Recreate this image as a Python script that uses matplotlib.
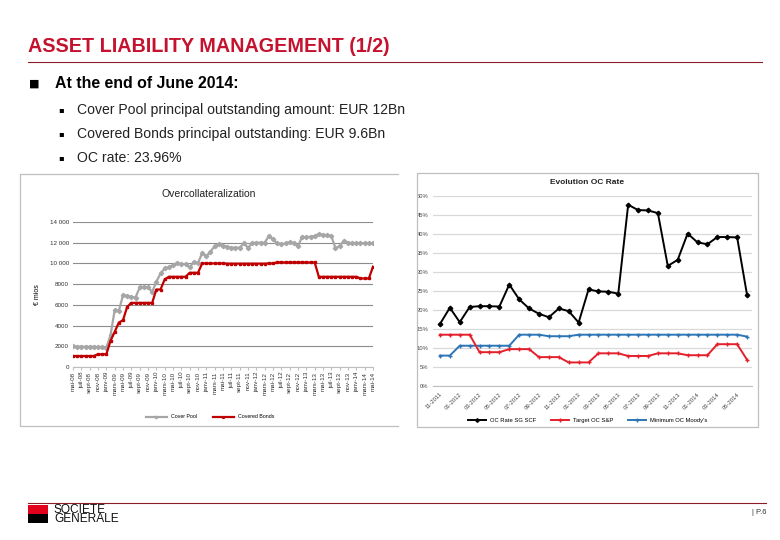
"""
Slide P.6 - Asset Liability Management (1/2)
Two Excel-style charts: Overcollateralization (EUR mios) and Evolution OC Rate.
"""

import matplotlib
matplotlib.use("Agg")
import matplotlib.pyplot as plt
from matplotlib.patches import Rectangle
from matplotlib.lines import Line2D

plt.rcParams["font.family"] = ["Liberation Sans", "DejaVu Sans"]

W, H = 780, 540          # slide size in pixels
RED = "#C4122F"
DARK_RED = "#8E1B2A"

# ----------------------------------------------------------------------
# Data - Overcollateralization (monthly, mai-08 .. mai-14, EUR mios)
# ----------------------------------------------------------------------
oc_tick_labels = ["mai-08", "juil-08", "sept-08", "nov-08", "janv-09", "mars-09",
                  "mai-09", "juil-09", "sept-09", "nov-09", "janv-10", "mars-10",
                  "mai-10", "juil-10", "sept-10", "nov-10", "janv-11", "mars-11",
                  "mai-11", "juil-11", "sept-11", "nov-11", "janv-12", "mars-12",
                  "mai-12", "juil-12", "sept-12", "nov-12", "janv-13", "mars-13",
                  "mai-13", "juil-13", "sept-13", "nov-13", "janv-14", "mars-14",
                  "mai-14"]

cover_pool = [1980, 1970, 1960, 1960, 1950, 1950, 1930, 1900, 1880, 3060,
              5480, 5420, 6940, 6840, 6780, 6710, 7680, 7740, 7680, 7260,
              8230, 9030, 9520, 9610, 9840, 10000, 9940, 9940, 9610, 10160,
              10060, 10970, 10700, 11130, 11680, 11840, 11710, 11610, 11520, 11520,
              11520, 11940, 11520, 11940, 12000, 12000, 12000, 12650, 12320, 11940,
              11840, 11940, 12030, 11940, 11680, 12580, 12520, 12580, 12650, 12840,
              12740, 12740, 12650, 11450, 11680, 12190, 12000, 11970, 11970, 11970,
              11950, 11950, 11940]

covered_bonds = [1060, 1060, 1060, 1060, 1060, 1060, 1230, 1230, 1230, 2520,
                 3390, 4290, 4520, 5810, 6190, 6190, 6190, 6190, 6190, 6190,
                 7480, 7480, 8450, 8710, 8710, 8710, 8710, 8710, 9100, 9100,
                 9100, 10000, 10000, 10000, 10000, 10000, 10000, 9980, 9980, 9980,
                 9980, 9980, 9980, 9980, 9980, 9980, 9980, 10000, 10000, 10100,
                 10100, 10100, 10100, 10100, 10100, 10100, 10100, 10100, 10100, 8710,
                 8710, 8710, 8710, 8710, 8710, 8710, 8710, 8710, 8710, 8550,
                 8550, 8550, 9680]

oc_yticks = [0, 2000, 4000, 6000, 8000, 10000, 12000, 14000]
oc_ytick_labels = ["0", "2000", "4000", "6000", "8000", "10 000", "12 000", "14 000"]

# ----------------------------------------------------------------------
# Data - Evolution OC Rate (monthly, 11-2011 .. 06-2014, %)
# ----------------------------------------------------------------------
rate_tick_labels = ["11-2011", "01-2012", "03-2012", "05-2012", "07-2012", "09-2012",
                    "11-2012", "01-2013", "03-2013", "05-2013", "07-2013", "09-2013",
                    "11-2013", "01-2014", "03-2014", "05-2014"]

oc_rate = [16.3, 20.6, 16.8, 20.8, 21.0, 21.0, 20.9, 26.7, 22.8, 20.4,
           19.0, 18.1, 20.4, 19.7, 16.7, 25.4, 24.9, 24.8, 24.3, 47.7,
           46.3, 46.2, 45.5, 31.6, 33.2, 40.1, 37.8, 37.3, 39.2, 39.2,
           39.1, 23.96]

target_sp = [13.5, 13.5, 13.5, 13.5, 8.9, 8.9, 8.9, 9.7, 9.7, 9.7,
             7.6, 7.6, 7.6, 6.2, 6.2, 6.2, 8.6, 8.6, 8.6, 7.9,
             7.9, 7.9, 8.6, 8.6, 8.6, 8.1, 8.1, 8.1, 11.0, 11.0,
             11.0, 6.9]

min_moodys = [8.0, 8.0, 10.6, 10.6, 10.6, 10.6, 10.6, 10.6, 13.5, 13.5,
              13.5, 13.1, 13.1, 13.1, 13.5, 13.5, 13.5, 13.5, 13.5, 13.5,
              13.5, 13.5, 13.5, 13.5, 13.5, 13.5, 13.5, 13.5, 13.5, 13.5,
              13.5, 13.0]

rate_yticks = [0, 5, 10, 15, 20, 25, 30, 35, 40, 45, 50]


def fx(x):
    return x / W


def fy(y):
    return 1 - y / H


def add_axes_px(fig, x0, y0, x1, y1):
    """axes from pixel box (top-left origin)"""
    return fig.add_axes([fx(x0), fy(y1), (x1 - x0) / W, (y1 - y0) / H])


def line_px(fig, x0, x1, y, color, lw):
    fig.add_artist(Line2D([fx(x0), fx(x1)], [fy(y), fy(y)], color=color, lw=lw,
                          transform=fig.transFigure))


def main():
    fig = plt.figure(figsize=(W / 100, H / 100), dpi=100)

    # --- header ---
    fig.text(fx(28), fy(47), "ASSET LIABILITY MANAGEMENT (1/2)", color=RED,
             fontsize=14.2, fontweight="bold", va="center", ha="left")
    line_px(fig, 28, 762, 62, DARK_RED, 0.8)

    fig.text(fx(29), fy(84), "\u25a0", fontsize=8, va="center", ha="left",
             family=["DejaVu Sans"])
    fig.text(fx(55), fy(84), "At the end of June 2014:", fontsize=11.4,
             fontweight="bold", va="center", ha="left")
    bullets = ["Cover Pool principal outstanding amount: EUR 12Bn",
               "Covered Bonds principal outstanding: EUR 9.6Bn",
               "OC rate: 23.96%"]
    for k, txt in enumerate(bullets):
        y = 110 + 24 * k
        fig.text(fx(58), fy(y), "\u25aa", fontsize=6, va="center", ha="left",
                 family=["DejaVu Sans"])
        fig.text(fx(77), fy(y), txt, fontsize=10.1, va="center", ha="left",
                 color="#222222")

    # --- chart frames ---
    fr = "#BFBFBF"
    fig.add_artist(Line2D([fx(398), fx(20), fx(20), fx(398)],
                          [fy(174), fy(174), fy(426), fy(426)], color=fr, lw=0.9,
                          transform=fig.transFigure))
    fig.add_artist(Rectangle((fx(417), fy(427)), (758 - 417) / W, (427 - 173) / H,
                             fill=False, edgecolor=fr, lw=0.9,
                             transform=fig.transFigure))

    # --- Chart 1: Overcollateralization ---
    ax = add_axes_px(fig, 73, 222, 373, 367)
    months = list(range(len(cover_pool)))
    ax.plot(months, cover_pool, color="#A6A6A6", lw=1.6, marker="D", ms=2.2,
            mec="#A6A6A6", label="Cover Pool", zorder=3)
    ax.plot(months, covered_bonds, color="#C00000", lw=1.6, marker="s", ms=2.0,
            mec="#C00000", label="Covered Bonds", zorder=4)
    ax.set_xlim(0, len(cover_pool) - 1)
    ax.set_ylim(0, 14000)
    ax.set_yticks(oc_yticks)
    ax.set_yticklabels(oc_ytick_labels)
    ax.set_xticks(months[::2])
    ax.set_xticklabels(oc_tick_labels, rotation=90)
    ax.grid(axis="y", color="#8C8C8C", lw=0.8)
    ax.set_axisbelow(True)
    for s in ["top", "right", "left"]:
        ax.spines[s].set_visible(False)
    ax.spines["bottom"].set_color("#BFBFBF")
    ax.tick_params(axis="y", length=0, labelsize=4.5, labelcolor="#333333", pad=3)
    ax.tick_params(axis="x", length=2, color="#BFBFBF", labelsize=4.5,
                   labelcolor="#333333", pad=1.5)
    ax.set_ylabel("€ mios", fontsize=5, labelpad=6)
    fig.text(fx(209), fy(194), "Overcollateralization", fontsize=7.5,
             ha="center", va="center", color="#222222")
    fig.legend(handles=ax.get_lines(), loc="center", ncol=2, frameon=False,
               bbox_to_anchor=(fx(210), fy(417)), fontsize=3.8,
               handlelength=4, columnspacing=3, markerscale=0.6)

    # --- Chart 2: Evolution OC Rate ---
    ax2 = add_axes_px(fig, 433, 196, 752, 386)
    pts = list(range(len(oc_rate)))
    ax2.plot(pts, oc_rate, color="black", lw=1.4, marker="D", ms=2.3,
             label="OC Rate SG SCF", zorder=5)
    ax2.plot(pts, target_sp, color="#E3202B", lw=1.4, marker="+", ms=3.5, mew=1,
             label="Target OC S&P", zorder=4)
    ax2.plot(pts, min_moodys, color="#2E75B6", lw=1.4, marker="+", ms=3.5, mew=1,
             label="Minimum OC Moody's", zorder=3)
    ax2.set_xlim(-0.7, len(oc_rate) - 0.5)
    ax2.set_ylim(0, 50)
    ax2.set_yticks(rate_yticks)
    ax2.set_yticklabels([f"{v}%" for v in rate_yticks])
    ax2.set_xticks(pts[::2])
    ax2.set_xticklabels(rate_tick_labels, rotation=45, ha="right",
                        rotation_mode="anchor")
    ax2.grid(axis="y", color="#D9D9D9", lw=0.9)
    ax2.set_axisbelow(True)
    for s in ["top", "right", "left"]:
        ax2.spines[s].set_visible(False)
    ax2.spines["bottom"].set_color("#BFBFBF")
    ax2.tick_params(axis="both", length=0, labelsize=4.2, labelcolor="#444444")
    ax2.tick_params(axis="x", pad=4)
    fig.text(fx(587), fy(183), "Evolution OC Rate", fontsize=6, fontweight="bold",
             ha="center", va="center", color="#222222")
    fig.legend(handles=ax2.get_lines(), loc="center", ncol=3, frameon=False,
               bbox_to_anchor=(fx(588), fy(420)), fontsize=4.2,
               handlelength=3, columnspacing=2.5, markerscale=0.8)

    # --- footer ---
    line_px(fig, 28, 766, 503, DARK_RED, 0.8)
    fig.add_artist(Rectangle((fx(28), fy(514)), 20 / W, 9 / H, color="#E2001A",
                             transform=fig.transFigure, lw=0))
    fig.add_artist(Rectangle((fx(28), fy(523)), 20 / W, 9 / H, color="black",
                             transform=fig.transFigure, lw=0))
    fig.text(fx(54), fy(514.5), "SOCIETE\nGENERALE", fontsize=8.6, ha="left",
             va="center", color="#111111", linespacing=0.74)
    fig.text(fx(752), fy(512), "| P.6", fontsize=5.5, ha="left", va="center",
             color="#333333")

    fig.savefig("out.png", dpi=100)
    plt.close(fig)


if __name__ == "__main__":
    main()
